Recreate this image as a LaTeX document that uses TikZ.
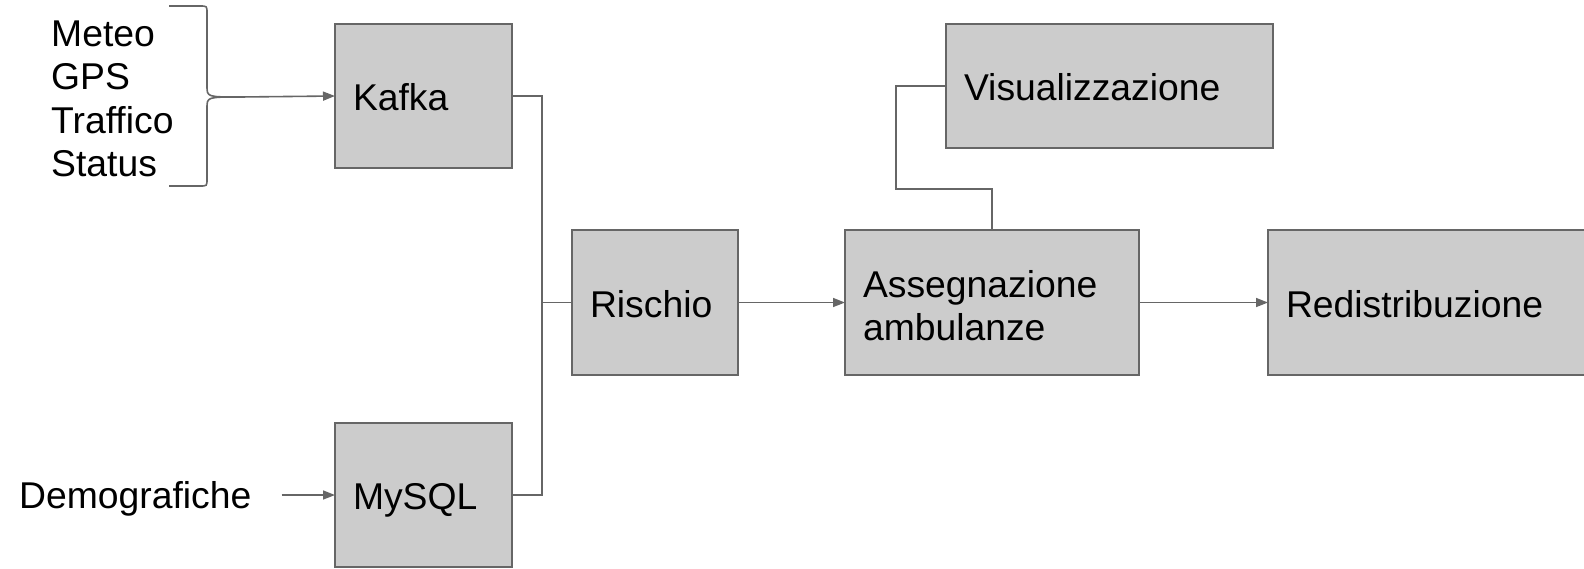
\documentclass[tikz,border=0pt]{standalone}
\usepackage{fontspec}
\setmainfont{Liberation Sans}
\usepackage{xcolor}
\usepackage{tikz}
\usetikzlibrary{arrows.meta}
\definecolor{boxfill}{HTML}{CCCCCC}
\definecolor{wiregray}{HTML}{666666}
\tikzset{
  blok/.style={draw=wiregray, fill=boxfill, line width=1.6pt, align=left,
    inner xsep=18pt, inner ysep=0pt, outer sep=0pt, font=\fontsize{37.3}{43}\selectfont},
  oneline/.style={text height=35pt, text depth=6pt},
  src/.style={inner sep=0pt, anchor=base west, font=\fontsize{37.3}{43}\selectfont},
  wire/.style={draw=wiregray, line width=1.6pt},
  arr/.style={wire, -{Triangle[length=12pt,width=9pt]}}
}

\begin{document}
\begin{tikzpicture}[x=1pt,y=-1pt]
\useasboundingbox (0,0) rectangle (1584,568);
\clip (0,0) rectangle (1584,568);
% sources
\node[src] (meteo) at (51,46) {Meteo};
\node[src] (gps) at (51,89.5) {GPS};
\node[src] (traffico) at (51,133) {Traffico};
\node[src] (status) at (51,176.5) {Status};
\node[src] (demo) at (19,508) {Demografiche};
% brace
\draw[wire] (169,6) -- (200,6) .. controls (207,6) .. (207,13) -- (207,86) .. controls (207,97) .. (240,97);
\draw[wire] (169,186) -- (200,186) .. controls (207,186) .. (207,179) -- (207,108) .. controls (207,97) .. (240,97);
\coordinate (tip) at (240,97);
% boxes
\node[blok, oneline, text width=141pt, minimum height=144pt] (kafka) at (423.5,96) {Kafka};
\node[blok, oneline, text width=141pt, minimum height=144pt] (mysql) at (423.5,495) {MySQL};
\node[blok, oneline, text width=130pt, minimum height=145pt] (rischio) at (655,302.5) {Rischio};
\node[blok, text width=258pt, minimum height=145pt] (asseg) at (992,302.5) {\rule{0pt}{33pt}Assegnazione\\ambulanze};
\node[blok, oneline, text width=304pt, minimum height=145pt] (redis) at (1438,302.5) {Redistribuzione};
\node[blok, oneline, text width=291pt, minimum height=124pt] (vis) at (1109.5,86) {Visualizzazione};
% connectors
\draw[arr] (tip) -- (kafka.west);
\draw[arr, shorten <=30pt] (demo.east |- mysql.west) -- (mysql.west);
\draw[wire] (kafka.east) -- ++(30,0) |- (rischio.west);
\draw[wire] (mysql.east) -- ++(30,0) |- (rischio.west);
\draw[arr] (rischio) -- (asseg);
\draw[arr] (asseg) -- (redis);
\coordinate (visbend) at (896,189);
\draw[wire] (asseg.north) |- (visbend) |- (vis.west);
\end{tikzpicture}
\end{document}
